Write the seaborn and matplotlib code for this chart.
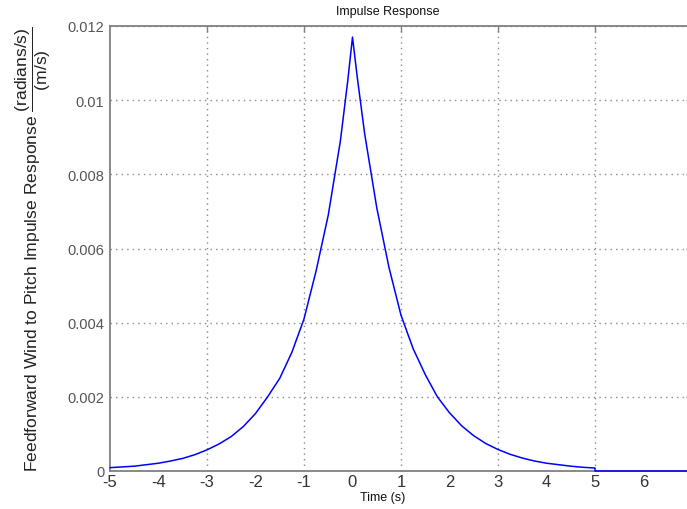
import matplotlib
matplotlib.use("Agg")
import matplotlib.pyplot as plt
from matplotlib.ticker import FixedLocator, FixedFormatter
import pandas as pd
import seaborn as sns

# Impulse response samples (time in s, response in (rad/s)/(m/s))
time_s = [-5.0, -4.75, -4.5, -4.25, -4.0, -3.75, -3.5, -3.25, -3.0, -2.75,
          -2.5, -2.25, -2.0, -1.75, -1.5, -1.25, -1.0, -0.75, -0.5, -0.25,
          -0.1, 0.0, 0.1, 0.25, 0.5, 0.75, 1.0, 1.25, 1.5, 1.75, 2.0, 2.25,
          2.5, 2.75, 3.0, 3.25, 3.5, 3.75, 4.0, 4.25, 4.5, 4.75, 5.0, 5.0, 7.0]
response = [0.00009, 0.00011, 0.00013, 0.00017, 0.00021, 0.00027, 0.00034,
            0.00044, 0.00057, 0.00073, 0.00093, 0.0012, 0.00155, 0.0020,
            0.0025, 0.0032, 0.0041, 0.0054, 0.0069, 0.0089, 0.0105, 0.0117,
            0.0106, 0.0091, 0.0071, 0.0055, 0.0042, 0.0033, 0.0026, 0.0020,
            0.00157, 0.00122, 0.00095, 0.00074, 0.00058, 0.00045, 0.00035,
            0.00027, 0.00021, 0.00017, 0.00013, 0.00010, 0.00008, 0.0, 0.0]

x_tick_values = [-5, -4, -3, -2, -1, 0, 1, 2, 3, 4, 5, 6, 7]
grid_x_values = [-3, -1, 1, 3, 5]
y_tick_values = [0, 0.002, 0.004, 0.006, 0.008, 0.01, 0.012]
y_tick_labels = ["0", "0.002", "0.004", "0.006", "0.008", "0.01", "0.012"]

sns.set_theme(style="white")
plt.rcParams["font.family"] = ["Liberation Sans", "DejaVu Sans"]
plt.rcParams["mathtext.fontset"] = "custom"
plt.rcParams["mathtext.rm"] = "Liberation Sans"
plt.rcParams["mathtext.it"] = "Liberation Sans"

df = pd.DataFrame({"t": time_s, "y": response})

fig = plt.figure(figsize=(6.87, 5.10), dpi=100)
ax = fig.add_axes([110 / 687, 38 / 510, 582 / 687, 445 / 510])

sns.lineplot(data=df, x="t", y="y", ax=ax, sort=False, estimator=None,
             color="#0000ff", linewidth=1.1, zorder=3)
for ln in ax.lines:
    ln.set_clip_on(False)

ax.set_xlim(-5, 7)
ax.set_ylim(0, 0.012)

# Gridded ticks at odd seconds, label-only ticks at even seconds
ax.xaxis.set_major_locator(FixedLocator(grid_x_values))
ax.xaxis.set_major_formatter(FixedFormatter([str(v) for v in grid_x_values]))
even_vals = [v for v in x_tick_values if v not in grid_x_values]
ax.xaxis.set_minor_locator(FixedLocator(even_vals))
ax.xaxis.set_minor_formatter(FixedFormatter([str(v) for v in even_vals]))

ax.yaxis.set_major_locator(FixedLocator(y_tick_values))
ax.yaxis.set_major_formatter(FixedFormatter(y_tick_labels))

ax.grid(True, which="major", linestyle=(0, (1, 3)), color="#8a8a8a", linewidth=1.0)

ax.tick_params(axis="x", which="both", labelsize=12, colors="#333333", pad=2,
               direction="in", top=True)
ax.tick_params(axis="x", which="minor", length=0)
ax.tick_params(axis="x", which="major", length=4, width=1, color="#808080")
ax.tick_params(axis="y", which="major", labelsize=10.5, labelcolor="#555555",
               direction="in", length=4, width=1, color="#808080", right=True, pad=4)

for s in ax.spines.values():
    s.set_color("#808080")
    s.set_linewidth(1.3)

ax.set_title("Impulse Response", fontsize=9, x=0.478, pad=9, color="#111111")
ax.set_xlabel("Time (s)", fontsize=9, color="#111111")
ax.xaxis.set_label_coords(0.469, -0.045)
ax.set_ylabel(r"Feedforward Wind to Pitch Impulse Response $\dfrac{\mathrm{(radians/s)}}{\mathrm{(m/s)}}$",
              fontsize=12.6, color="#222222")
ax.yaxis.set_label_coords(-0.098, 0.5)

fig.savefig("out.png", dpi=100)
